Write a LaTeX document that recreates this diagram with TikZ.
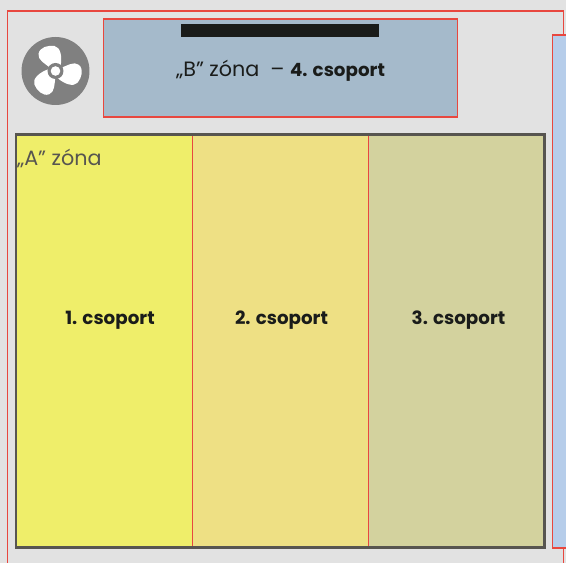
\documentclass[tikz,border=0pt]{standalone}
\usepackage{fontspec}
\setmainfont{Poppins}
\usetikzlibrary{positioning}

\definecolor{hall}{HTML}{E2E2E2}
\definecolor{wire}{HTML}{E8473F}
\definecolor{bzonefill}{HTML}{A5BACB}
\definecolor{colayellow}{HTML}{EFEE6A}
\definecolor{colsand}{HTML}{EEE084}
\definecolor{cololive}{HTML}{D3D29E}
\definecolor{panelblue}{HTML}{B6CDEA}
\definecolor{framegray}{HTML}{575550}
\definecolor{fangray}{HTML}{808080}
\definecolor{inkdark}{HTML}{1A1C1A}

\begin{document}
\begin{tikzpicture}[
    x=0.02cm,y=-0.02cm,
    box/.style={rectangle,inner sep=0mm,outer sep=0mm},
    redbox/.style={box,draw=wire,line width=0.75pt},
    wireline/.style={wire,line width=0.75pt},
    column/.style={box,minimum height=8.26cm},
    grouplabel/.style={box,text=inkdark,font=\fontsize{10.4}{12}\selectfont\bfseries},
    zonelabel/.style={box,font=\fontsize{11.8}{14}\selectfont}
]
 \useasboundingbox (0,0) rectangle (566,563);
 \clip (0,0) rectangle (566,563);
 \fill[hall] (0,0) rectangle (566,563);

 % outer wall
 \node[redbox,fill=panelblue,minimum width=0.6cm,minimum height=10.26cm,anchor=north west] (panel) at (552.7,35) {};
 \coordinate (wallend) at (7.5,563);
 \coordinate (wallstub) at (563.3,563);
 \draw[wireline] (wallend) -- (7.5,11) -- (563.3,11) -- (563.3,35);
 \draw[wireline] (563.3,547.7) -- (wallstub);

 % b zone
 \node[redbox,fill=bzonefill,minimum width=7.08cm,minimum height=1.96cm,anchor=north west] (bzone) at (103.5,19) {};
 \node[box,fill=inkdark,minimum width=3.96cm,minimum height=0.26cm,anchor=north west] (bar) at (181,24) {};
 \node[zonelabel,text=inkdark] (blabel) at (280.5,71) {„B” zóna\ \ – {\fontsize{10.4}{12}\selectfont\bfseries 4. csoport}};

 % a zone
 \node[column,fill=colayellow,minimum width=3.522cm,anchor=north west] (col1) at (16.2,134.7) {};
 \node[column,fill=colsand,minimum width=3.526cm,right=0pt of col1] (col2) {};
 \node[column,fill=cololive,minimum width=3.524cm,right=0pt of col2] (col3) {};
 \draw[wireline] (col1.north east) -- (col1.south east);
 \draw[wireline] (col2.north east) -- (col2.south east);
 \draw[framegray,line width=1.42pt] (col1.north west) rectangle (col3.south east);
 \node[zonelabel,text=framegray,anchor=west] (alabel) at (17,158) {„A” zóna};
 \node[grouplabel] (g1) at (110,320) {1. csoport};
 \node[grouplabel] (g2) at (281.5,320) {2. csoport};
 \node[grouplabel] (g3) at (458.5,320) {3. csoport};

 % fan
 \node[circle,fill=fangray,inner sep=0mm,minimum size=1.36cm] (fan) at (55.5,71) {};
 \begin{scope}[shift={(fan.center)},yscale=-1]
  \foreach \ang in {0,-120,-240}
   \fill[white,rotate=\ang] (-5,3) .. controls (-10,7) and (-18,11) .. (-17,17)
     .. controls (-16,24) and (-7,26) .. (-1,25)
     .. controls (5,24) and (7,14) .. (5,5) -- cycle;
  \fill[fangray] (0,0) circle (8);
  \fill[white] (0,0) circle (4.8);
 \end{scope}
\end{tikzpicture}
\end{document}
